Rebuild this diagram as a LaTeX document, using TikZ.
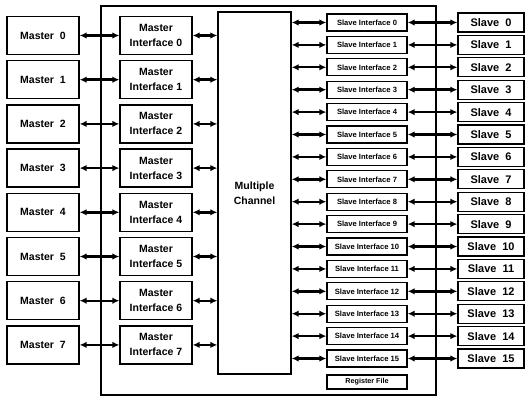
\documentclass[tikz,border=0pt]{standalone}
\usepackage{fontspec}
\setmainfont{Liberation Sans}
\usetikzlibrary{arrows.meta}
\tikzset{
  box/.style={draw, line width=1.3pt, inner sep=0pt, align=center, font=\bfseries\fontsize{10.5}{15}\selectfont},
  masterbox/.style={box, minimum width=72pt, minimum height=38pt},
  sibox/.style={box, minimum width=80pt, minimum height=17pt, font=\bfseries\fontsize{7.6}{9}\selectfont},
  slavebox/.style={box, minimum width=66pt, minimum height=19pt, font=\bfseries\fontsize{11}{13}\selectfont},
  conn/.style={line width=2.4pt, {Latex[length=7pt,width=6.5pt]}-{Latex[length=7pt,width=6.5pt]}},
  frame/.style={draw, line width=1.3pt}
}
\begin{document}
\begin{tikzpicture}[x=1pt,y=-1pt]
\useasboundingbox (0,0) rectangle (526,398);
\draw[frame] (101,6) rectangle (436,395);
\node[box, minimum width=73pt, minimum height=362pt] (ch) at (254.5,193) {Multiple\\Channel};
\foreach \i in {0,...,7} {
  \pgfmathsetmacro{\yy}{35.5+44.2*\i}
  \node[masterbox] (m\i) at (43,\yy) {Master\ \ \i};
  \node[masterbox] (mi\i) at (156,\yy) {Master\\Interface \i};
  \draw[conn] (m\i.east) -- (mi\i.west);
  \draw[conn] (mi\i.east) -- (mi\i.east -| ch.west);
}
\foreach \i in {0,...,15} {
  \pgfmathsetmacro{\yy}{22.5+22.4*\i}
  \node[sibox] (si\i) at (367,\yy) {Slave Interface \i};
  \node[slavebox] (s\i) at (491,\yy) {Slave\ \ \i};
  \draw[conn] (si\i.west -| ch.east) -- (si\i.west);
  \draw[conn] (si\i.east) -- (s\i.west);
}
\node[sibox, minimum height=14pt, font=\bfseries\fontsize{7.2}{9}\selectfont] (rf) at (367,382) {Register File};
\end{tikzpicture}
\end{document}
